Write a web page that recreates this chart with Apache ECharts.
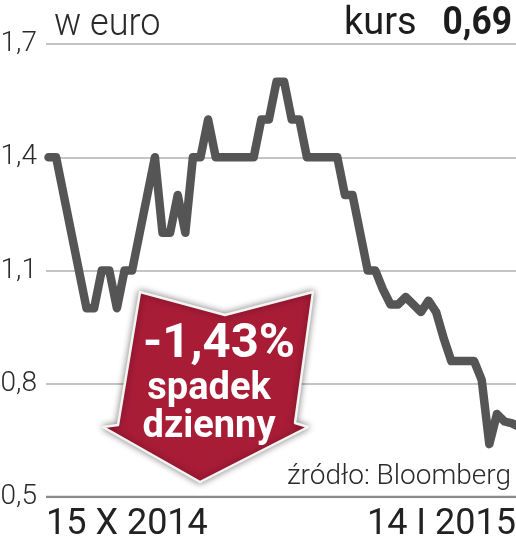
<!DOCTYPE html>
<html><head><meta charset="utf-8">
<style>html,body{margin:0;padding:0;background:#fff}#c{width:516px;height:541px}</style>
<script src="https://cdn.jsdelivr.net/npm/echarts@6/dist/echarts.min.js"></script>
</head><body><div id="c"></div>
<script>
const yTicks = [0.5, 0.8, 1.1, 1.4, 1.7];
const xTickLabels = ['15 X 2014', '14 I 2015'];
const prices = [1.4,1.4,1.3,1.2,1.1,1.0,1.0,1.1,1.1,1.0,1.1,1.1,1.2,1.3,1.4,1.2,1.2,1.3,1.2,1.4,1.4,1.5,1.4,1.4,1.4,1.4,1.4,1.4,1.5,1.5,1.6,1.6,1.5,1.5,1.4,1.4,1.4,1.4,1.4,1.3,1.3,1.2,1.1,1.1,1.05,1.01,1.01,1.03,1.01,0.99,1.02,0.99,0.92,0.86,0.86,0.86,0.86,0.81,0.64,0.72,0.70,0.695,0.685];
const xMin = -0.33, xMax = 61.51;
const F = 'Roboto, sans-serif';
const chart = echarts.init(document.getElementById('c'), null, {renderer:'canvas'});
chart.setOption({
  animation:false,
  backgroundColor:'#fff',
  grid:{left:46,right:0,top:44,bottom:44,containLabel:false,outerBoundsMode:'none'},
  xAxis:{type:'value',min:xMin,max:xMax,
    axisLine:{show:false},axisTick:{show:false},splitLine:{show:false},
    axisLabel:{show:true,customValues:[xMin,xMax],alignMinLabel:'left',alignMaxLabel:'right',margin:10,
      fontFamily:F,fontSize:36,color:'#222',
      formatter:v=>v===xMin?xTickLabels[0]:xTickLabels[1]}},
  yAxis:{type:'value',min:0.5,max:1.7,
    axisLine:{show:false},
    axisTick:{show:false,customValues:yTicks},
    axisLabel:{customValues:yTicks,margin:9,fontFamily:F,fontWeight:300,fontSize:28,color:'#2a2a2a',
      formatter:v=>v.toFixed(1).replace('.',',')},
    splitLine:{show:true,lineStyle:{color:'#b0b0b0',width:1.5}}},
  series:[
   {type:'line',data:prices.map((v,i)=>[i,v]),showSymbol:false,clip:false,z:3,
    lineStyle:{color:'#555555',width:8.5,cap:'round',join:'round'}},
   {type:'line',data:[[xMin,0.5],[xMax,0.5]],showSymbol:false,z:2,silent:true,
    lineStyle:{color:'#8a8a8a',width:2.5}}
  ],
  graphic:[
   {type:'polygon',z:10,shape:{points:[[140,292],[225,315],[313,292],[295,423],[308,427],[200,482],[103,427],[118,425]]},
    style:{fill:'#a81c36',stroke:'#f4f4f4',lineWidth:2.5,lineJoin:'round',shadowBlur:7,shadowColor:'rgba(0,0,0,0.45)'}},
   {type:'text',z:11,x:219,y:345,style:{text:'-1,43%',fill:'#fff',font:'700 49px '+F,textAlign:'center',textVerticalAlign:'middle'}},
   {type:'text',z:11,x:209,y:389,style:{text:'spadek',fill:'#fff',font:'700 38px '+F,textAlign:'center',textVerticalAlign:'middle'}},
   {type:'text',z:11,x:209,y:427,style:{text:'dzienny',fill:'#fff',font:'700 38px '+F,textAlign:'center',textVerticalAlign:'middle'}},
   {type:'text',z:11,x:54,y:25,scaleX:0.95,style:{text:'w euro',fill:'#2a2a2a',font:'300 38px '+F,textAlign:'left',textVerticalAlign:'middle'}},
   {type:'text',z:11,x:344,y:24,style:{text:'kurs',fill:'#1c1c1c',font:'400 38px '+F,textAlign:'left',textVerticalAlign:'middle'}},
   {type:'text',z:11,x:512,y:24,scaleX:0.93,style:{text:'0,69',fill:'#1c1c1c',font:'700 38px '+F,textAlign:'right',textVerticalAlign:'middle'}},
   {type:'text',z:11,x:511,y:477,style:{text:'źródło: Bloomberg',fill:'#2a2a2a',font:'300 28px '+F,textAlign:'right',textVerticalAlign:'middle'}}
  ]
});
</script></body></html>
